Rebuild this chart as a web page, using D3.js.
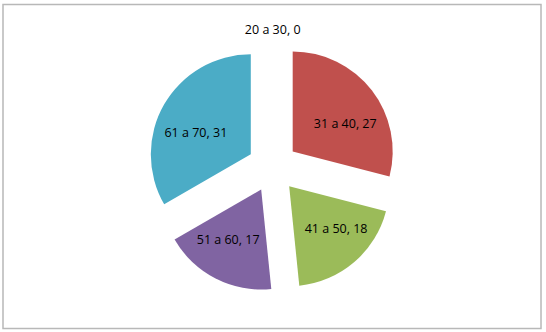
<!DOCTYPE html>
<html>
<head>
<meta charset="utf-8">
<script src="https://cdn.jsdelivr.net/npm/d3@7"></script>
<style>
  body { margin: 0; background: #fff; }
  svg { display: block; font-family: "Open Sans", "Noto Sans", sans-serif; }
</style>
</head>
<body>
<div id="chart"></div>
<script>
// age groups and counts
const categories = ["20 a 30", "31 a 40", "41 a 50", "51 a 60", "61 a 70"];
const values = [0, 27, 18, 17, 31];
const colors = ["#4F81BD", "#C0504D", "#9BBB59", "#8064A2", "#4BACC6"];

const width = 546, height = 332;
const cx = 272.7, cy = 167;
const radius = 100;
const explode = 25.3;

const svg = d3.select("#chart").append("svg")
    .attr("width", width)
    .attr("height", height);

// chart area border
svg.append("rect")
    .attr("x", 3)
    .attr("y", 4.5)
    .attr("width", 538)
    .attr("height", 324)
    .attr("fill", "#fff")
    .attr("stroke", "#b8b8b8")
    .attr("stroke-width", 1.5);

const data = categories.map((c, i) => ({ name: c, value: values[i], color: colors[i] }));

const pie = d3.pie()
    .value(d => d.value)
    .sort(null);

const arc = d3.arc()
    .innerRadius(0)
    .outerRadius(radius);

const g = svg.append("g")
    .attr("transform", "translate(" + cx + "," + cy + ")");

const slices = g.selectAll(".slice")
    .data(pie(data))
    .enter()
    .append("g")
    .attr("class", "slice")
    .attr("transform", d => {
        const mid = (d.startAngle + d.endAngle) / 2;
        return "translate(" + (explode * Math.sin(mid)) + "," + (-explode * Math.cos(mid)) + ")";
    });

slices.filter(d => d.value > 0)
    .append("path")
    .attr("d", arc)
    .attr("fill", d => d.data.color);

// labels near the sector centroid, empty slices get an outside label
slices.append("text")
    .attr("text-anchor", "middle")
    .attr("dy", "0.35em")
    .attr("font-size", "12.5px")
    .attr("fill", "#000")
    .attr("transform", d => {
        const mid = (d.startAngle + d.endAngle) / 2;
        const th = d.endAngle - d.startAngle;
        if (d.value === 0) {
            const r = radius + 12;
            return "translate(" + (r * Math.sin(mid)) + "," + (-r * Math.cos(mid)) + ")";
        }
        const k = 2 * radius * Math.sin(th / 2) / (1.5 * th);
        return "translate(" + (1.15 * k * Math.sin(mid)) + "," + (-0.85 * k * Math.cos(mid) + 2) + ")";
    })
    .text(d => d.data.name + ", " + d.data.value);
</script>
</body>
</html>
